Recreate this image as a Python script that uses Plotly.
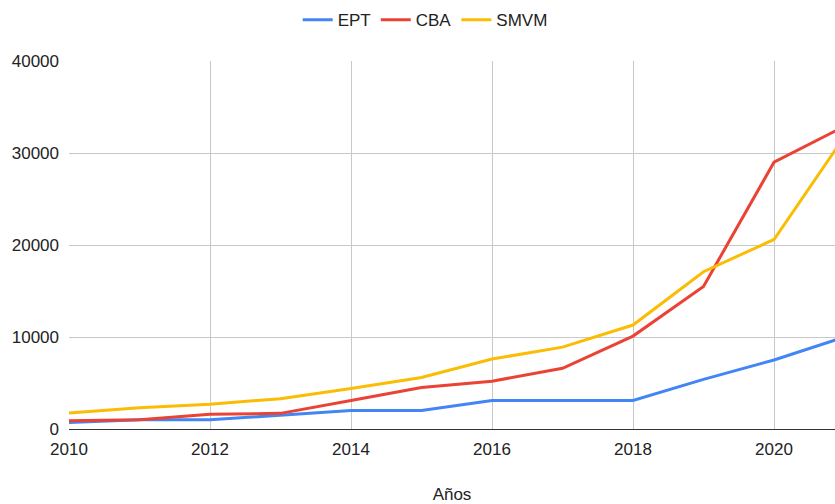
import plotly.graph_objects as go

years = [2010, 2011, 2012, 2013, 2014, 2015, 2016, 2017, 2018, 2019, 2020, 2021]
ept = [700, 1000, 1000, 1500, 2000, 2000, 3100, 3100, 3100, 5400, 7500, 10000]
cba = [900, 1000, 1600, 1700, 3100, 4500, 5200, 6600, 10100, 15500, 29000, 32900]
smvm = [1750, 2300, 2700, 3300, 4400, 5600, 7600, 8900, 11300, 17100, 20600, 31800]

series = [("EPT", ept, "#4285F4"), ("CBA", cba, "#EA4335"), ("SMVM", smvm, "#FBBC04")]

fig = go.Figure()
for name, vals, col in series:
    fig.add_trace(go.Scatter(x=years, y=vals, name=name, mode="lines",
                             line=dict(color=col, width=3)))

font = "Liberation Sans, Arial, sans-serif"
fig.update_layout(
    width=835, height=504,
    margin=dict(l=69, r=0, t=61, b=75),
    paper_bgcolor="white", plot_bgcolor="white",
    font=dict(family=font, size=17, color="#222"),
    showlegend=True,
    legend=dict(orientation="h", x=0.465, xanchor="center", y=1.111, yanchor="middle",
                font=dict(size=17, color="#222"), itemwidth=30),
    xaxis=dict(range=[2010, 2020.865], dtick=2, tick0=2010, showgrid=True,
               gridcolor="#c8c8c8", gridwidth=1.3, zeroline=False,
               showline=True, linecolor="#333", linewidth=1,
               ticks="", ticklabelstandoff=5,
               title=dict(text="Años", standoff=30, font=dict(size=17))),
    yaxis=dict(range=[0, 40000], dtick=10000, tickformat="d", showgrid=True,
               gridcolor="#c8c8c8", gridwidth=1.3, zeroline=False, showline=False,
               ticks="", ticklabelstandoff=9),
)
fig.write_html("out.html", config={"displayModeBar": False},
               post_script="document.body.style.margin='0';")
